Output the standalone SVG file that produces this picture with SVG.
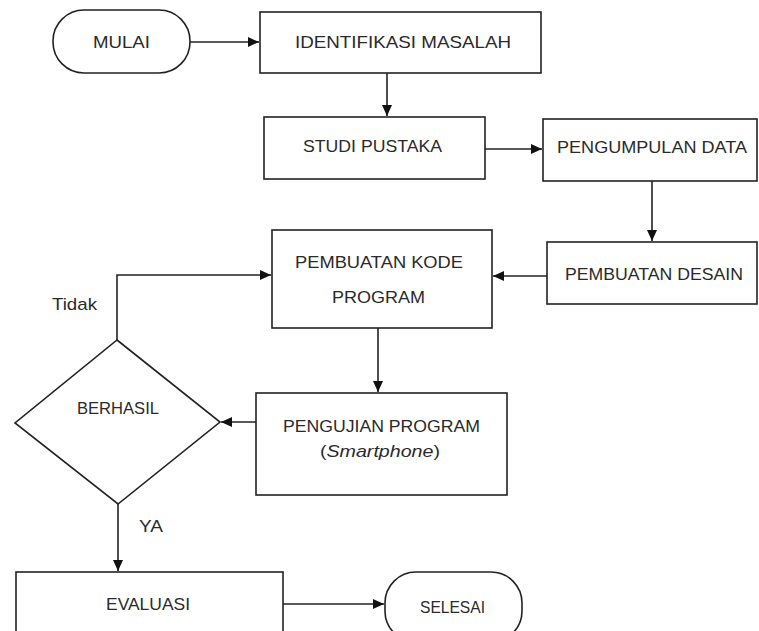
<svg xmlns="http://www.w3.org/2000/svg" width="759" height="631" viewBox="0 0 759 631">
<defs>
<style>
.n{fill:#fff;stroke:#222;stroke-width:1.6}
.t{font-family:"Liberation Sans",Arial,sans-serif;font-size:17px;fill:#2a2a2a}
.c{fill:none;stroke:#222;stroke-width:1.6}
</style>
<marker id="ah" markerUnits="userSpaceOnUse" markerWidth="12" markerHeight="10" refX="11" refY="5" orient="auto">
<path d="M0,0 L11,5 L0,10 Z" fill="#111"/>
</marker>
</defs>
<rect width="759" height="631" fill="#fff"/>
<g id="connectors">
<path class="c" d="M190,42 H259" marker-end="url(#ah)"/>
<path class="c" d="M387,73 V116" marker-end="url(#ah)"/>
<path class="c" d="M485,149 H542" marker-end="url(#ah)"/>
<path class="c" d="M652,181 V241" marker-end="url(#ah)"/>
<path class="c" d="M547,276 H493" marker-end="url(#ah)"/>
<path class="c" d="M378,328 V392" marker-end="url(#ah)"/>
<path class="c" d="M256,422 H221" marker-end="url(#ah)"/>
<path class="c" d="M117,340 V275 H271" marker-end="url(#ah)"/>
<path class="c" d="M118,504 V571" marker-end="url(#ah)"/>
<path class="c" d="M283,604 H384" marker-end="url(#ah)"/>
<text class="t" x="52" y="310" textLength="45" lengthAdjust="spacingAndGlyphs">Tidak</text>
<text class="t" x="139" y="532" textLength="24" lengthAdjust="spacingAndGlyphs">YA</text>
</g>
<g id="mulai">
<rect class="n" x="53" y="10" width="137" height="63" rx="31" ry="31"/>
<text class="t" x="93" y="48" textLength="57" lengthAdjust="spacingAndGlyphs">MULAI</text>
</g>
<g id="identifikasi">
<rect class="n" x="260" y="12" width="281" height="61"/>
<text class="t" x="295" y="48" textLength="216" lengthAdjust="spacingAndGlyphs">IDENTIFIKASI MASALAH</text>
</g>
<g id="studi">
<rect class="n" x="264" y="117" width="221" height="62"/>
<text class="t" x="303" y="152" textLength="139" lengthAdjust="spacingAndGlyphs">STUDI PUSTAKA</text>
</g>
<g id="pengumpulan">
<rect class="n" x="543" y="119" width="214" height="62"/>
<text class="t" x="557" y="153" textLength="190" lengthAdjust="spacingAndGlyphs">PENGUMPULAN DATA</text>
</g>
<g id="desain">
<rect class="n" x="547" y="242" width="210" height="62"/>
<text class="t" x="565" y="280" textLength="178" lengthAdjust="spacingAndGlyphs">PEMBUATAN DESAIN</text>
</g>
<g id="kode">
<rect class="n" x="272" y="230" width="220" height="98"/>
<text class="t" x="295" y="268" textLength="168" lengthAdjust="spacingAndGlyphs">PEMBUATAN KODE</text>
<text class="t" x="332" y="303" textLength="93" lengthAdjust="spacingAndGlyphs">PROGRAM</text>
</g>
<g id="pengujian">
<rect class="n" x="256" y="393" width="251" height="102"/>
<text class="t" x="283" y="432" textLength="197" lengthAdjust="spacingAndGlyphs">PENGUJIAN PROGRAM</text>
<text class="t" x="320" y="457" textLength="120" lengthAdjust="spacingAndGlyphs">(<tspan font-style="italic">Smartphone</tspan>)</text>
</g>
<g id="berhasil">
<polygon class="n" points="117,340 220,422 118,504 15,423"/>
<text class="t" x="77" y="414" textLength="82" lengthAdjust="spacingAndGlyphs">BERHASIL</text>
</g>
<g id="evaluasi">
<rect class="n" x="16" y="572" width="267" height="70"/>
<text class="t" x="106" y="610" textLength="84" lengthAdjust="spacingAndGlyphs">EVALUASI</text>
</g>
<g id="selesai">
<rect class="n" x="385" y="572" width="137" height="70" rx="31" ry="31"/>
<text class="t" x="420" y="613" textLength="65" lengthAdjust="spacingAndGlyphs">SELESAI</text>
</g>
</svg>
